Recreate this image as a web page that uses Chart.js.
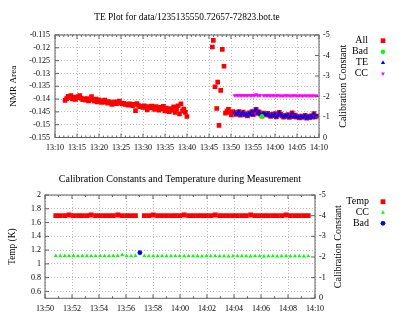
<!DOCTYPE html>
<html><head><meta charset="utf-8">
<script src="https://cdn.jsdelivr.net/npm/chart.js@4.4.0/dist/chart.umd.min.js"></script>
<style>html,body{margin:0;padding:0;background:#fff;}canvas{display:block;}</style>
</head><body>
<canvas id="c1" width="402" height="160"></canvas>
<canvas id="c2" width="402" height="161"></canvas>
<script>
// ---------- DATA (time = minutes after 13:00) ----------
const topTitle = 'TE Plot for data/1235135550.72657-72823.bot.te';
const bottomTitle = 'Calibration Constants and Temperature during Measurement';
const topSeries = ['All', 'Bad', 'TE', 'CC'];
const bottomSeries = ['Temp', 'CC', 'Bad'];

const earlyT = [12.30,12.63,12.97,13.30,13.63,13.97,14.30,14.63,14.97,15.30,15.63,15.97,16.30,16.63,16.97,17.30,17.63,17.97,18.30,18.63,18.97,19.30,19.63,19.97,20.30,20.63,20.97,21.30,21.63,21.97,22.30,22.63,22.97,23.30,23.63,23.97,24.30,24.63,24.97,25.30,25.63,25.97,26.30,26.63,26.97,27.30,27.63,27.97,28.30,28.63,28.97,29.30,29.63,29.97,30.30,30.63,30.97,31.30,31.63,31.97,32.30,32.63,32.97,33.30,33.63,33.97,34.30,34.63,34.97,35.30,35.63,35.97,36.30,36.63,36.97,37.30,37.63,37.97,38.30,38.63,38.97,39.30,39.63,39.97];
const earlyNMR = [-0.1405,-0.1398,-0.1389,-0.1395,-0.1386,-0.1399,-0.1392,-0.1401,-0.1396,-0.1390,-0.1386,-0.1397,-0.1402,-0.1399,-0.1404,-0.1398,-0.1407,-0.1401,-0.1390,-0.1403,-0.1408,-0.1400,-0.1411,-0.1403,-0.1406,-0.1413,-0.1409,-0.1404,-0.1412,-0.1416,-0.1410,-0.1414,-0.1421,-0.1415,-0.1411,-0.1418,-0.1413,-0.1408,-0.1416,-0.1419,-0.1417,-0.1421,-0.1420,-0.1424,-0.1419,-0.1422,-0.1426,-0.1421,-0.1445,-0.1418,-0.1425,-0.1430,-0.1427,-0.1433,-0.1426,-0.1431,-0.1442,-0.1429,-0.1435,-0.1427,-0.1432,-0.1440,-0.1429,-0.1436,-0.1443,-0.1432,-0.1438,-0.1428,-0.1446,-0.1435,-0.1441,-0.1449,-0.1437,-0.1443,-0.1430,-0.1452,-0.1440,-0.1426,-0.1458,-0.1419,-0.1446,-0.1439,-0.1452,-0.1468];

const spikeT = [45.75,45.98,46.36,46.75,46.98,47.27,47.66,48.02,48.41,48.75,49.08,49.42,49.75,50.08,50.40];
const spikeNMR = [-0.1197,-0.1171,-0.1352,-0.1437,-0.1334,-0.1503,-0.1366,-0.1206,-0.1272,-0.1455,-0.1447,-0.1440,-0.1452,-0.1462,-0.1449];

const measT = [50.80,51.13,51.46,51.78,52.11,52.44,52.77,53.10,53.42,53.75,54.08,54.41,54.74,55.06,55.39,55.72,56.05,56.38,56.70,57.36,57.69,58.02,58.34,58.67,59.00,59.33,59.66,59.98,60.31,60.64,60.97,61.30,61.62,61.95,62.28,62.61,62.94,63.26,63.59,63.92,64.25,64.58,64.90,65.23,65.56,65.89,66.22,66.54,66.87,67.20,67.53,67.86,68.18,68.51,68.84,69.17,69.50];
const teNMR = [-0.1452,-0.1460,-0.1455,-0.1449,-0.1463,-0.1457,-0.1451,-0.1462,-0.1458,-0.1466,-0.1454,-0.1460,-0.1449,-0.1461,-0.1447,-0.1440,-0.1456,-0.1450,-0.1459,-0.1455,-0.1458,-0.1462,-0.1456,-0.1463,-0.1468,-0.1460,-0.1465,-0.1457,-0.1470,-0.1463,-0.1452,-0.1459,-0.1466,-0.1471,-0.1464,-0.1468,-0.1461,-0.1472,-0.1466,-0.1454,-0.1469,-0.1463,-0.1471,-0.1468,-0.1474,-0.1466,-0.1472,-0.1469,-0.1464,-0.1475,-0.1468,-0.1473,-0.1465,-0.1471,-0.1457,-0.1470,-0.1466];
const calConst = [-2.06,-2.05,-2.06,-2.05,-2.06,-2.05,-2.05,-2.06,-2.05,-2.05,-2.06,-2.05,-2.05,-2.06,-2.05,-2.10,-2.05,-2.05,-2.06,-2.05,-2.04,-2.05,-2.04,-2.05,-2.04,-2.04,-2.05,-2.04,-2.04,-2.05,-2.04,-2.04,-2.03,-2.04,-2.04,-2.05,-2.04,-2.04,-2.03,-2.04,-2.05,-2.04,-2.04,-2.03,-2.04,-2.04,-2.03,-2.04,-2.04,-2.03,-2.04,-2.04,-2.03,-2.04,-2.04,-2.03,-2.04];
const tempK = [1.70,1.70,1.70,1.71,1.70,1.70,1.70,1.70,1.71,1.70,1.70,1.70,1.70,1.70,1.71,1.70,1.70,1.70,1.70,1.70,1.70,1.71,1.70,1.70,1.70,1.70,1.70,1.70,1.71,1.70,1.70,1.70,1.70,1.70,1.70,1.71,1.70,1.70,1.70,1.70,1.70,1.70,1.70,1.71,1.70,1.70,1.70,1.70,1.70,1.70,1.70,1.71,1.70,1.70,1.70,1.70,1.70];

const badT = [57.03];
const badNMR = [-0.1467];
const badCC = [-2.21];

// ticks
const xTicksTop = [10,15,20,25,30,35,40,45,50,55,60,65,70];
const xLabelsTop = ['13:10','13:15','13:20','13:25','13:30','13:35','13:40','13:45','13:50','13:55','14:00','14:05','14:10'];
const yTicksTop = [-0.155,-0.15,-0.145,-0.14,-0.135,-0.13,-0.125,-0.12,-0.115];
const yLabelsTop = ['-0.155','-0.15','-0.145','-0.14','-0.135','-0.13','-0.125','-0.12','-0.115'];
const xTicksBot = [50,52,54,56,58,60,62,64,66,68,70];
const xLabelsBot = ['13:50','13:52','13:54','13:56','13:58','14:00','14:02','14:04','14:06','14:08','14:10'];
const yTicksBot = [0.6,0.8,1.0,1.2,1.4,1.6,1.8,2.0];
const yLabelsBot = ['0.6','0.8','1','1.2','1.4','1.6','1.8','2'];
const y2Ticks = [-5,-4,-3,-2,-1,0];
const y2Labels = ['-5','-4','-3','-2','-1','0'];

// ---------- RENDERING ----------
const F = 'Liberation Serif';
const pts = (xs, ys) => xs.map((x, i) => ({x: x, y: ys[i]}));

const deco = {
  id: 'deco',
  afterDraw(chart, args, o) {
    const ctx = chart.ctx, a = chart.chartArea;
    const xs = chart.scales.x, yl = chart.scales.y, yr = chart.scales.y2;
    ctx.save();
    ctx.strokeStyle = '#606060';
    ctx.lineWidth = 1;
    ctx.beginPath();
    const vt = (v, len) => { const p = xs.getPixelForValue(v); ctx.moveTo(p, a.bottom); ctx.lineTo(p, a.bottom - len); ctx.moveTo(p, a.top); ctx.lineTo(p, a.top + len); };
    o.xMajor.forEach(v => vt(v, 4));
    o.xMinor.forEach(v => vt(v, 2));
    o.yMajor.forEach(v => { const p = yl.getPixelForValue(v); ctx.moveTo(a.left, p); ctx.lineTo(a.left + 4, p); });
    o.y2Major.forEach(v => { const p = yr.getPixelForValue(v); ctx.moveTo(a.right, p); ctx.lineTo(a.right - 4, p); });
    ctx.stroke();
    ctx.strokeRect(a.left, a.top, a.right - a.left, a.bottom - a.top);
    // axis titles
    ctx.fillStyle = '#000';
    ctx.textAlign = 'center';
    ctx.textBaseline = 'middle';
    const cy = (a.top + a.bottom) / 2;
    [[o.leftTitle, o.leftX, o.leftSize], [o.rightTitle, o.rightX, o.rightSize]].forEach(t => {
      ctx.save();
      ctx.translate(t[1], cy);
      ctx.rotate(-Math.PI / 2);
      ctx.font = t[2] + 'px "' + F + '"';
      ctx.fillText(t[0], 0, 0);
      ctx.restore();
    });
    // legend
    ctx.font = o.legendSize + 'px "' + F + '"';
    ctx.textAlign = 'right';
    chart.data.datasets.forEach((d, i) => {
      const y = o.legendY + i * o.legendStep;
      ctx.fillStyle = '#000';
      ctx.fillText(d.label, o.legendTextX, y);
      ctx.fillStyle = d.pointBackgroundColor;
      Chart.helpers.drawPoint(ctx, {pointStyle: d.pointStyle, rotation: d.pointRotation || 0, radius: d.pointRadius, borderWidth: 0}, o.legendSymX, y);
    });
    ctx.restore();
  }
};

function ds(label, data, style, radius, color, axis, order, rot) {
  return {label: label, data: data, pointStyle: style, pointRadius: radius, pointHoverRadius: radius,
    pointBackgroundColor: color, pointBorderColor: color, pointBorderWidth: 0, pointRotation: rot || 0,
    showLine: false, yAxisID: axis, order: order};
}

function makeScales(cfg) {
  const tickFont = {family: F, size: 8};
  return {
    x: {type: 'linear', position: 'bottom', min: cfg.xMin, max: cfg.xMax,
      afterBuildTicks: s => { s.ticks = cfg.xTicks.map(v => ({value: v})); },
      afterFit: s => { s.height = cfg.xHeight; },
      ticks: {callback: (v, i) => cfg.xLabels[i], font: tickFont, color: '#000', padding: 6, maxRotation: 0, autoSkip: false},
      grid: {color: '#b8b8b8', lineWidth: 1, drawTicks: false},
      border: {display: false, dash: [1, 2]}},
    y: {type: 'linear', position: 'left', min: cfg.yMin, max: cfg.yMax,
      afterBuildTicks: s => { s.ticks = cfg.yTicks.map(v => ({value: v})); },
      afterFit: s => { s.width = cfg.leftW; },
      ticks: {callback: (v, i) => cfg.yLabels[i], font: tickFont, color: '#000', padding: cfg.yPad, autoSkip: false},
      grid: {color: '#b8b8b8', lineWidth: 1, drawTicks: false},
      border: {display: false, dash: [1, 2]}},
    y2: {type: 'linear', position: 'right', min: -5, max: 0, reverse: true,
      afterBuildTicks: s => { s.ticks = y2Ticks.map(v => ({value: v})); },
      afterFit: s => { s.width = cfg.rightW; },
      ticks: {callback: (v, i) => y2Labels[i], font: tickFont, color: '#000', padding: 4, autoSkip: false},
      grid: {drawOnChartArea: false, drawTicks: false},
      border: {display: false}}
  };
}

const minors = (a, b, step, majors) => { const r = []; for (let v = a; v <= b; v += step) if (!majors.includes(v)) r.push(v); return r; };

// ----- top chart -----
const allT = earlyT.concat(spikeT, measT, badT);
const allNMR = earlyNMR.concat(spikeNMR, teNMR, badNMR);
new Chart(document.getElementById('c1'), {
  type: 'scatter',
  data: {datasets: [
    ds(topSeries[0], pts(allT, allNMR), 'rect', 3.3, '#ff0000', 'y', 4),
    ds(topSeries[1], pts(badT, badNMR), 'circle', 2.3, '#00ff00', 'y', 1),
    ds(topSeries[2], pts(measT, teNMR), 'triangle', 2.5, '#0000ff', 'y', 2),
    ds(topSeries[3], pts(measT, calConst), 'triangle', 2.2, '#ff00ff', 'y2', 3, 180)
  ]},
  options: {
    responsive: false, animation: false, events: [],
    layout: {padding: 0},
    scales: makeScales({xMin: 10, xMax: 70, xTicks: xTicksTop, xLabels: xLabelsTop, xHeight: 22.5,
      yMin: -0.155, yMax: -0.115, yTicks: yTicksTop, yLabels: yLabelsTop, leftW: 55, yPad: 5, rightW: 83}),
    plugins: {
      legend: {display: false}, tooltip: {enabled: false},
      title: {display: true, text: topTitle, fullSize: false, color: '#000', font: {family: F, size: 9.4, weight: 'normal'}, padding: {top: 11.7, bottom: 12.0}},
      deco: {xMajor: xTicksTop, xMinor: minors(10, 70, 1, xTicksTop), yMajor: yTicksTop, y2Major: y2Ticks,
        leftTitle: 'NMR Area', leftX: 13.3, leftSize: 9.2, rightTitle: 'Calibration Constant', rightX: 343.3, rightSize: 10,
        legendSize: 10, legendY: 40.7, legendStep: 11, legendTextX: 368, legendSymX: 383}
    }
  },
  plugins: [deco]
});

// ----- bottom chart -----
new Chart(document.getElementById('c2'), {
  type: 'scatter',
  data: {datasets: [
    ds(bottomSeries[0], pts(measT, tempK), 'rect', 3.4, '#ff0000', 'y', 3),
    ds(bottomSeries[1], pts(measT, calConst), 'triangle', 2.3, '#00ff00', 'y2', 2),
    ds(bottomSeries[2], pts(badT, badCC), 'circle', 2.4, '#0000ff', 'y2', 1)
  ]},
  options: {
    responsive: false, animation: false, events: [],
    layout: {padding: 0},
    scales: makeScales({xMin: 50, xMax: 70, xTicks: xTicksBot, xLabels: xLabelsBot, xHeight: 22.7,
      yMin: 0.5, yMax: 2, yTicks: yTicksBot, yLabels: yLabelsBot, leftW: 45, yPad: 4, rightW: 87}),
    plugins: {
      legend: {display: false}, tooltip: {enabled: false},
      title: {display: true, text: bottomTitle, fullSize: false, color: '#000', font: {family: F, size: 10, weight: 'normal'}, padding: {top: 13, bottom: 10}},
      deco: {xMajor: xTicksBot, xMinor: minors(50, 70, 1, xTicksBot), yMajor: yTicksBot, y2Major: y2Ticks,
        leftTitle: 'Temp (K)', leftX: 13, leftSize: 9.4, rightTitle: 'Calibration Constant', rightX: 338, rightSize: 10,
        legendSize: 10, legendY: 41.7, legendStep: 10.8, legendTextX: 369, legendSymX: 383}
    }
  },
  plugins: [deco]
});
</script>
</body></html>
